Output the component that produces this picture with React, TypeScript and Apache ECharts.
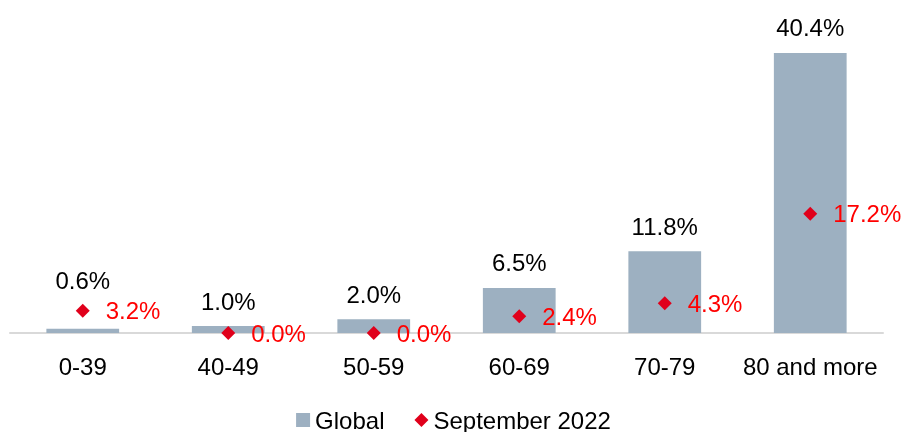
import React, { useEffect, useRef } from "react";
import * as echarts from "echarts";

const categories = ["0-39", "40-49", "50-59", "60-69", "70-79", "80 and more"];
const globalValues = [0.6, 1.0, 2.0, 6.5, 11.8, 40.4];
const sept2022Values = [3.2, 0.0, 0.0, 2.4, 4.3, 17.2];

const FONT = "'Liberation Sans', Arial, Helvetica, sans-serif";
const FS = 24;

export default function App() {
  const ref = useRef<HTMLDivElement>(null);
  useEffect(() => {
    if (!ref.current) return;
    const chart = echarts.init(ref.current, undefined, { renderer: "svg" });
    const pct = (p: any) => Number(p.value).toFixed(1) + "%";
    chart.setOption({
      animation: false,
      textStyle: { fontFamily: FONT },
      grid: { left: 10, right: 24, top: 21, bottom: 99, containLabel: false },
      legend: {
        top: 403,
        left: "center",
        itemWidth: 14,
        itemHeight: 14,
        itemGap: 30,
        textStyle: { fontSize: FS, color: "#000", fontFamily: FONT },
        data: [
          { name: "Global", icon: "rect" },
          { name: "September 2022", icon: "diamond" },
        ],
      },
      xAxis: {
        type: "category",
        data: categories,
        axisLine: { lineStyle: { color: "#d9d9d9", width: 2 } },
        axisTick: { show: false },
        axisLabel: { color: "#000", fontSize: FS, margin: 21, interval: 0, fontFamily: FONT },
      },
      yAxis: {
        type: "value",
        min: 0,
        max: 45,
        show: false,
        splitLine: { show: false },
      },
      series: [
        {
          name: "Global",
          type: "bar",
          data: globalValues.map((v, i) =>
            i === 0 ? { value: v, label: { distance: 36 } } : v
          ),
          barWidth: "50%",
          itemStyle: { color: "#9DB0C1" },
          label: {
            show: true,
            position: "top",
            distance: 13,
            fontSize: FS,
            color: "#000",
            fontFamily: FONT,
            formatter: pct,
          },
        },
        {
          name: "September 2022",
          type: "scatter",
          data: sept2022Values,
          symbol: "diamond",
          symbolSize: 14,
          itemStyle: { color: "#E0001B", opacity: 1 },
          label: {
            show: true,
            position: "right",
            distance: 16,
            fontSize: FS,
            color: "#FF0000",
            fontFamily: FONT,
            formatter: pct,
          },
          z: 5,
        },
      ],
    });
    return () => chart.dispose();
  }, []);
  return (
    <div
      ref={ref}
      style={{ position: "fixed", left: 0, top: 0, width: 907, height: 432 }}
    />
  );
}
